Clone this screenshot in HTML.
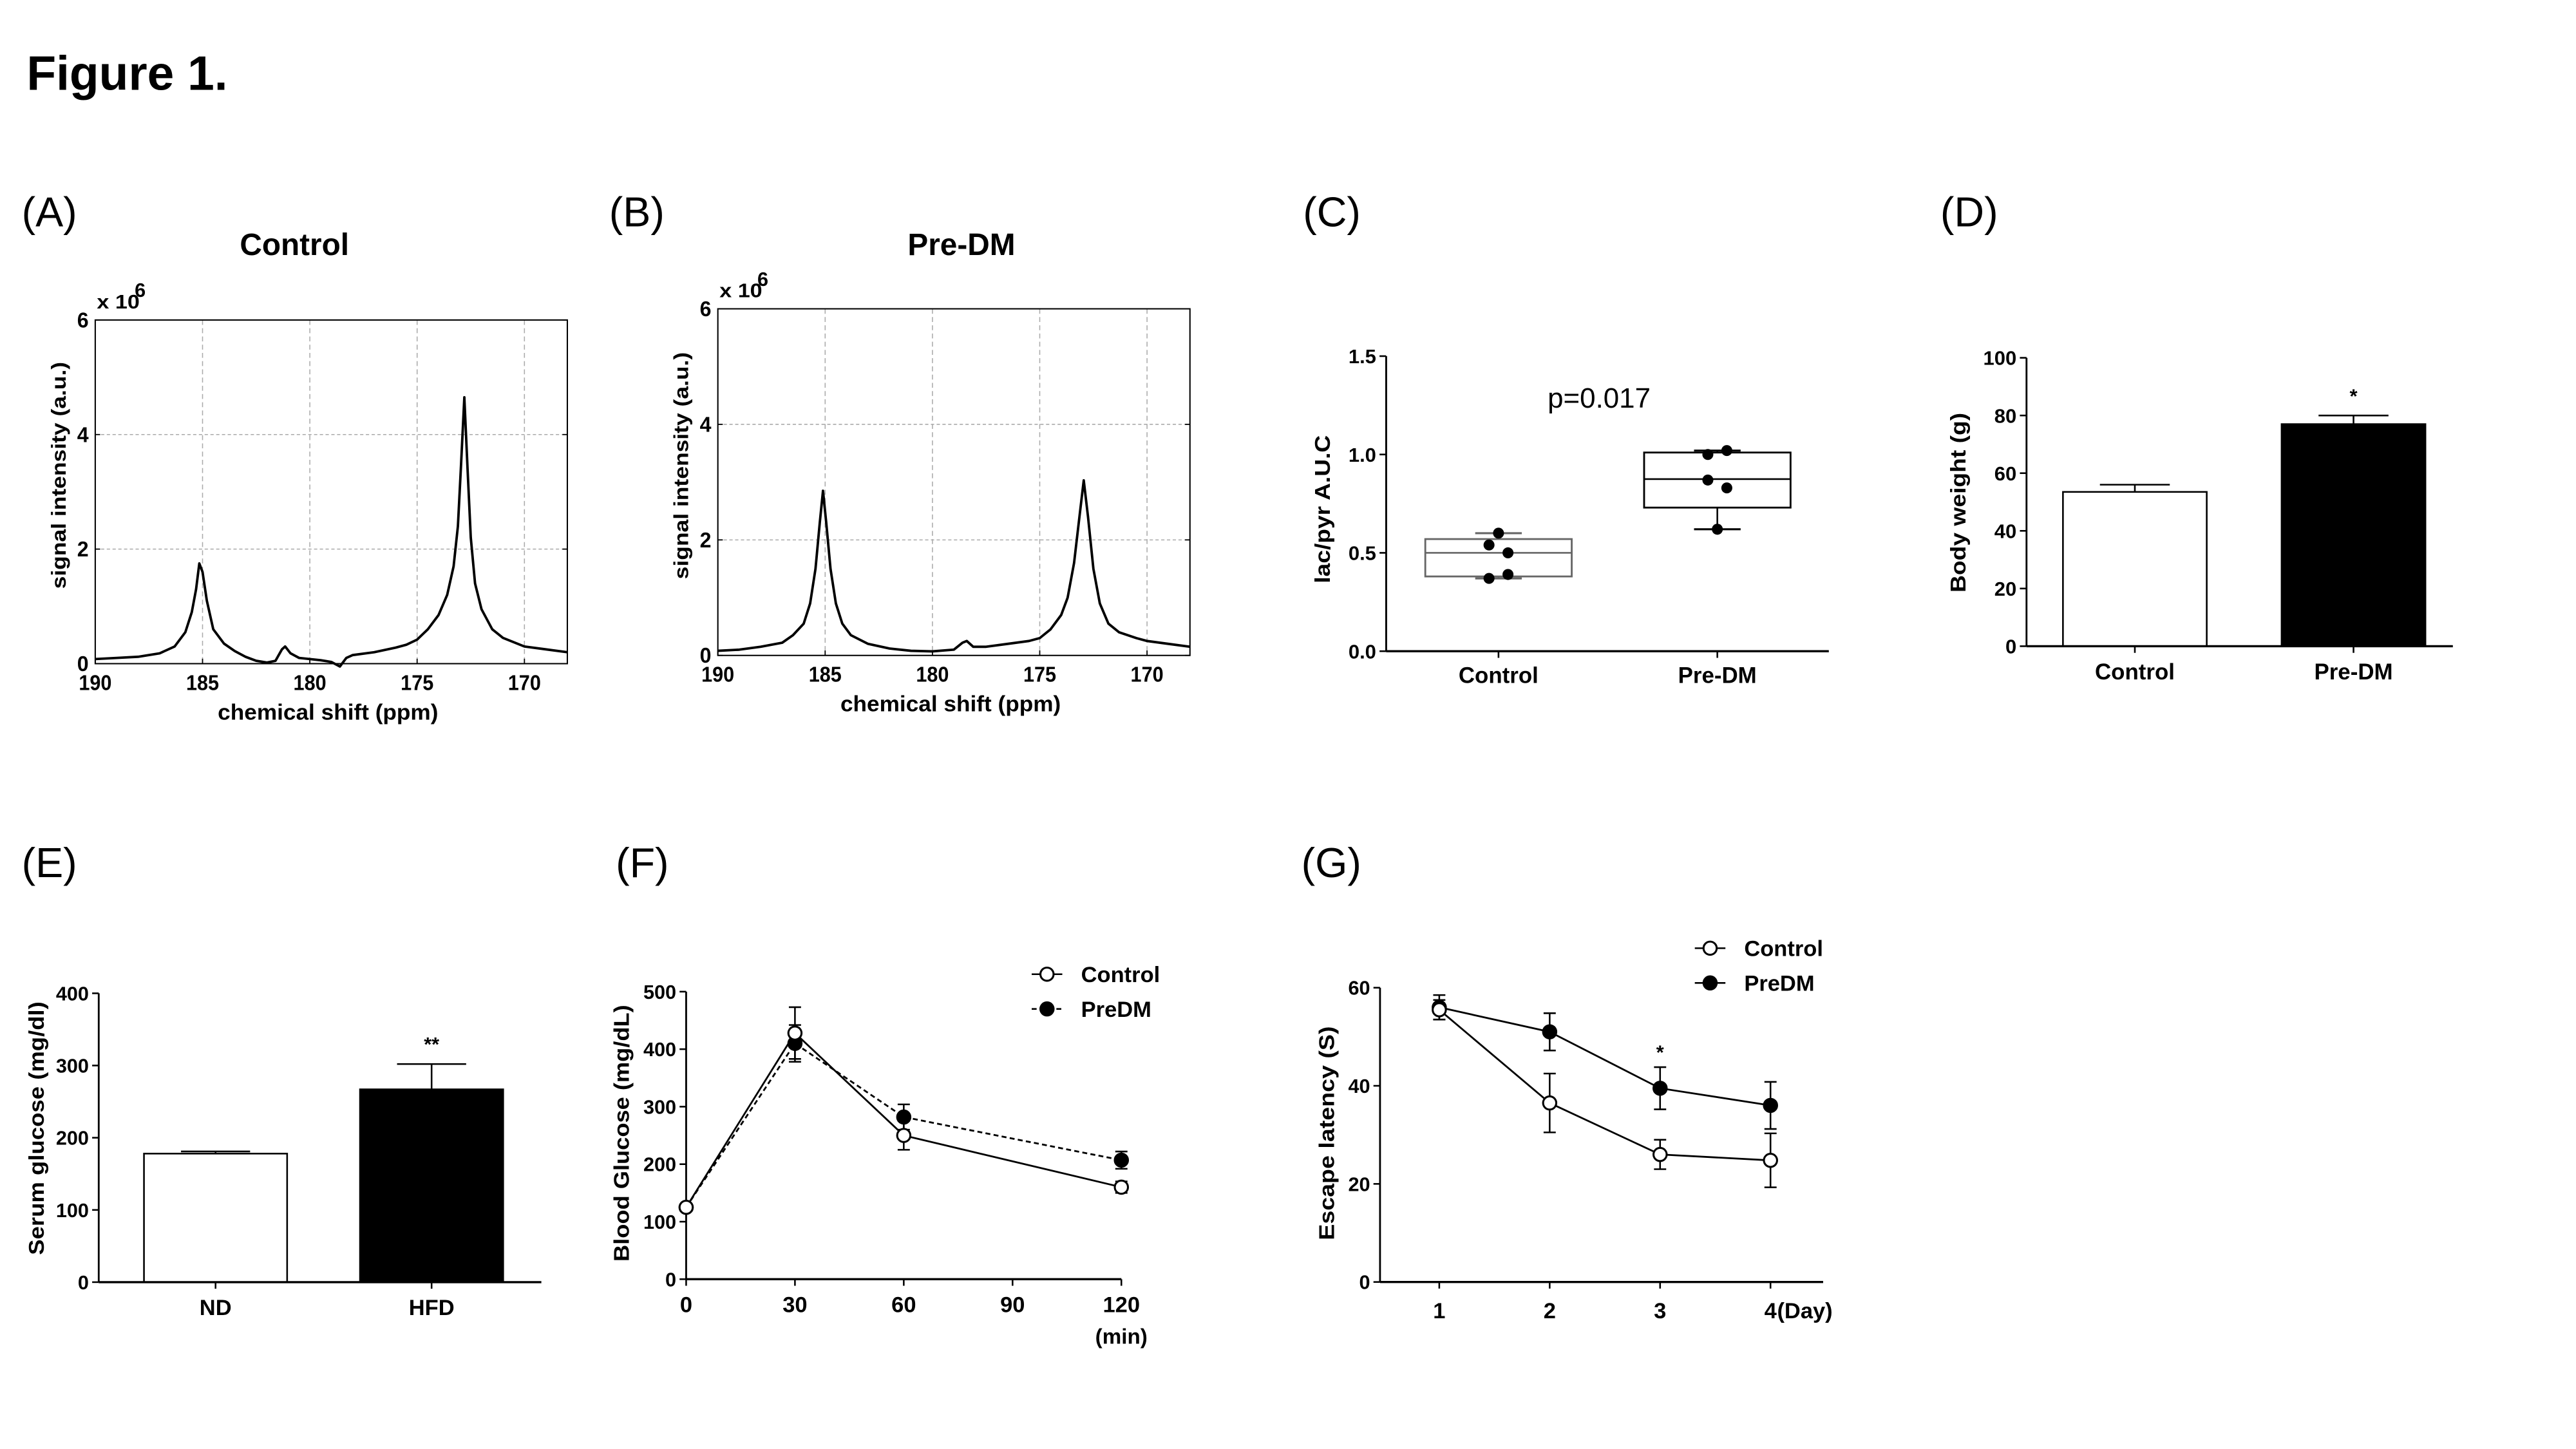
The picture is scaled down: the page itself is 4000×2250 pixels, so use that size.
<!DOCTYPE html>
<html><head><meta charset="utf-8">
<style>
html,body{margin:0;padding:0;background:#fff;}
svg{display:block;}
text{font-family:"Liberation Sans",sans-serif;fill:#000;}
</style></head>
<body>
<svg id="fig" xmlns="http://www.w3.org/2000/svg" width="4000" height="2250" viewBox="0 0 1548 870.7" preserveAspectRatio="none">
<rect x="0" y="0" width="1548" height="871" fill="#fff"/>
<text x="16" y="54" font-size="29" font-weight="bold">Figure 1.</text>
</svg>
<script>
// ---------- data ----------
const specAppm=[190,189,188,187,186.3,185.8,185.5,185.3,185.15,185.0,184.8,184.5,184.0,183.5,183,182.5,182,181.6,181.3,181.15,180.9,180.5,180,179.5,179,178.6,178.3,178,177,176,175.5,175,174.5,174,173.6,173.3,173.1,172.95,172.8,172.65,172.5,172.3,172,171.5,171,170,169,168];
const specAint=[0.08,0.1,0.12,0.18,0.3,0.55,0.9,1.3,1.75,1.6,1.1,0.6,0.35,0.22,0.12,0.05,0.02,0.05,0.25,0.3,0.18,0.1,0.08,0.06,0.03,-0.05,0.1,0.15,0.2,0.28,0.33,0.42,0.6,0.85,1.2,1.7,2.4,3.5,4.65,3.4,2.2,1.4,0.95,0.6,0.45,0.3,0.25,0.2];
const specBppm=[190,189,188,187,186.5,186,185.7,185.45,185.25,185.1,184.95,184.75,184.5,184.2,183.8,183,182,181,180,179,178.6,178.4,178.1,177.5,176.5,175.5,175,174.5,174,173.7,173.4,173.15,172.95,172.75,172.5,172.2,171.8,171.3,170.5,170,169,168];
const specBint=[0.08,0.1,0.15,0.22,0.35,0.55,0.9,1.5,2.3,2.85,2.3,1.5,0.9,0.55,0.35,0.2,0.12,0.08,0.07,0.1,0.22,0.25,0.15,0.15,0.2,0.25,0.3,0.45,0.7,1.0,1.6,2.4,3.03,2.4,1.5,0.9,0.55,0.4,0.3,0.25,0.2,0.15];
const specXTicks=[190,185,180,175,170];
const specYTicks=[0,2,4,6];

const cCats=['Control','Pre-DM'];
const cCtrlPts=[0.60,0.54,0.50,0.37,0.39];
const cPrePts=[1.00,1.02,0.87,0.83,0.62];
const cQ1=[0.38,0.73];
const cMed=[0.50,0.875];
const cQ3=[0.57,1.01];
const cMin=[0.37,0.62];
const cMax=[0.60,1.02];
const cYTicks=['0.0','0.5','1.0','1.5'];

const dCats=['Control','Pre-DM'];
const dMeans=[53.5,77];
const dErr=[2.5,3];
const dYTicks=[0,20,40,60,80,100];

const eCats=['ND','HFD'];
const eMeans=[178,267];
const eErr=[3,35];
const eYTicks=[0,100,200,300,400];

const fTimes=[0,30,60,120];
const fXTicks=[0,30,60,90,120];
const fCtrl=[125,428,250,160];
const fCtrlErr=[5,45,25,10];
const fPre=[125,410,282,207];
const fPreErr=[5,32,22,15];
const fYTicks=[0,100,200,300,400,500];

const gDays=[1,2,3,4];
const gCtrl=[55.5,36.5,26,24.8];
const gCtrlErr=[2,6,3,5.5];
const gPre=[56,51,39.5,36];
const gPreErr=[2.5,3.8,4.3,4.8];
const gYTicks=[0,20,40,60];

// ---------- helpers ----------
const NS='http://www.w3.org/2000/svg';
const svg=document.getElementById('fig');
function mk(tag,attrs,parent){const e=document.createElementNS(NS,tag);for(const k in attrs)e.setAttribute(k,attrs[k]);(parent||svg).appendChild(e);return e;}
function tx(s,attrs,parent){const e=mk('text',attrs,parent);e.textContent=s;return e;}
function lin(d0,d1,r0,r1){return v=>r0+(v-d0)*(r1-r0)/(d1-d0);}
let el;
const TOP_T='translate(0,96.7) scale(0.9885) translate(0,-96.7)';
const BOT_T='translate(0,495.4) scale(0.9888,0.989) translate(0,-495.4)';

// panel letters
const letters=[['(A)',13,'panel-label-a'],['(B)',366,'panel-label-b'],['(C)',783,'panel-label-c'],['(D)',1166,'panel-label-d']];
letters.forEach(l=>{el=tx(l[0],{x:l[1],y:136,'font-size':25});

});
const letters2=[['(E)',13,'panel-label-e'],['(F)',370,'panel-label-f'],['(G)',782,'panel-label-g']];
letters2.forEach(l=>{el=tx(l[0],{x:l[1],y:527,'font-size':25});

});

// ---------- spectra ----------
function spectrum(key,title,titleX,L,R,Y0,Y6,ppm,ints){
  const g=mk('g',{transform:TOP_T});
  
  
  const xs=lin(190,168,L,R), ys=lin(0,6,Y0,Y6);
  el=tx(title,{x:titleX,y:154,'font-size':18.7,'font-weight':'bold','text-anchor':'middle'},g);
  
  
  specXTicks.slice(1).forEach(t=>{el=mk('line',{x1:xs(t),x2:xs(t),y1:Y6,y2:Y0,stroke:'#aaa','stroke-width':0.6,'stroke-dasharray':'3,2'},g);
  
  });
  specYTicks.slice(1,3).forEach(t=>{el=mk('line',{x1:L,x2:R,y1:ys(t),y2:ys(t),stroke:'#aaa','stroke-width':0.6,'stroke-dasharray':'2,1.5'},g);
  
  });
  el=mk('rect',{x:L,y:Y6,width:R-L,height:Y0-Y6,fill:'none',stroke:'#000','stroke-width':0.8},g);
  
  
  const pts=ppm.map((p,i)=>xs(p).toFixed(2)+','+ys(ints[i]).toFixed(2)).join(' ');
  el=mk('polyline',{points:pts,fill:'none',stroke:'#000','stroke-width':1.5,'stroke-linejoin':'round'},g);
  
  
  specXTicks.forEach(t=>{el=tx(String(t),{x:xs(t),y:Y0+16,'font-size':13,'font-weight':'bold','text-anchor':'middle',textLength:20,lengthAdjust:'spacingAndGlyphs'},g);
  
  
  el=mk('line',{x1:xs(t),x2:xs(t),y1:Y0,y2:Y0-3,stroke:'#000','stroke-width':0.7},g);
  
  });
  specYTicks.forEach(t=>{el=tx(String(t),{x:L-4,y:ys(t)+4.5,'font-size':13,'font-weight':'bold','text-anchor':'end',textLength:7,lengthAdjust:'spacingAndGlyphs'},g);
  
  
  el=mk('line',{x1:L,x2:L+3,y1:ys(t),y2:ys(t),stroke:'#000','stroke-width':0.7},g);
  
  
  el=mk('line',{x1:R,x2:R-3,y1:ys(t),y2:ys(t),stroke:'#000','stroke-width':0.7},g);
  
  });
  el=tx('x 10',{x:L+1,y:Y6-7,'font-size':12,'font-weight':'bold',textLength:26,lengthAdjust:'spacingAndGlyphs'},g);
  
  
  el=tx('6',{x:L+24,y:Y6-14,'font-size':12,'font-weight':'bold'},g);
  
  
  el=tx('chemical shift (ppm)',{x:(L+R)/2-2,y:Y0+34,'font-size':13.5,'font-weight':'bold','text-anchor':'middle',textLength:134,lengthAdjust:'spacingAndGlyphs'},g);
  
  
  el=tx('signal intensity (a.u.)',{x:0,y:0,'font-size':12.5,'font-weight':'bold','text-anchor':'middle',transform:'translate('+(L-18)+','+((Y0+Y6)/2-10)+') rotate(-90)',textLength:138,lengthAdjust:'spacingAndGlyphs'},g);
  
  
}
spectrum('a','Control',179,57.9,344.9,402.3,193.4,specAppm,specAint);
spectrum('b','Pre-DM',584.5,436.4,723.4,397.3,186.6,specBppm,specBint);

// generic axis helpers
function yAxis(g,X,Yb,Yt,ticks,ys,labels){
  el=mk('line',{x1:X,x2:X,y1:Yt,y2:Yb,stroke:'#000','stroke-width':1.1},g);
  
  
  ticks.forEach((t,i)=>{
    el=mk('line',{x1:X-4,x2:X,y1:ys(t),y2:ys(t),stroke:'#000','stroke-width':1},g);
    
    
    el=tx(labels?labels[i]:String(t),{x:X-6,y:ys(t)+4.3,'font-size':12,'font-weight':'bold','text-anchor':'end'},g);
    
    
  });
}
function xAxisLine(g,X0,X1,Y){
  el=mk('line',{x1:X0,x2:X1,y1:Y,y2:Y,stroke:'#000','stroke-width':1.3},g);
  
  
}
function xTick(g,x,Y,label,ly){
  el=mk('line',{x1:x,x2:x,y1:Y,y2:Y+4,stroke:'#000','stroke-width':1},g);
  
  
  el=tx(label,{x:x,y:ly,'font-size':13.5,'font-weight':'bold','text-anchor':'middle'},g);
  
  
}
function yTitle(g,s,x,y,len){
  el=tx(s,{x:0,y:0,'font-size':13,'font-weight':'bold','text-anchor':'middle','dominant-baseline':'central',transform:'translate('+x+','+y+') rotate(-90)',textLength:len,lengthAdjust:'spacingAndGlyphs'},g);
  
  
}

// ---------- C box plot ----------
(function(){
  const g=mk('g',{});
  
  
  const X=833,Yb=391.3,Yt=214,ys=lin(0,1.5,Yb,Yt);
  yAxis(g,X,Yb,Yt,[0,0.5,1.0,1.5],ys,cYTicks);
  xAxisLine(g,X,1099,Yb);
  const cx=i=>900.5+i*131.5;
  const colors=['#666','#000'];
  const pts=[cCtrlPts,cPrePts];
  const jit=[[0,-5.7,5.7,-5.7,5.7],[-5.7,5.7,-5.7,5.7,0]];
  cCats.forEach((c,i)=>{
    xTick(g,cx(i),Yb,c,Yb+19);
    const x=cx(i),w=88;
    el=mk('line',{x1:x,x2:x,y1:ys(cMax[i]),y2:ys(cMin[i]),stroke:colors[i],'stroke-width':1},g);
    
    
    [cMin[i],cMax[i]].forEach(v=>{el=mk('line',{x1:x-14,x2:x+14,y1:ys(v),y2:ys(v),stroke:colors[i],'stroke-width':1.2},g);
    
    });
    el=mk('rect',{x:x-w/2,y:ys(cQ3[i]),width:w,height:ys(cQ1[i])-ys(cQ3[i]),fill:'#fff',stroke:colors[i],'stroke-width':1.1},g);
    
    
    el=mk('line',{x1:x-w/2,x2:x+w/2,y1:ys(cMed[i]),y2:ys(cMed[i]),stroke:colors[i],'stroke-width':1},g);
    
    
    pts[i].forEach((v,j)=>{el=mk('circle',{cx:x+jit[i][j],cy:ys(v),r:3.3,fill:'#000'},g);
    
    });
  });
  el=tx('p=0.017',{x:930,y:245,'font-size':17},g);
  
  
  yTitle(g,'lac/pyr A.U.C',795,306,89);
})();

// ---------- bar panels ----------
function barPanel(key,tr,X,Yb,Yt,X1,ymax,ticks,cats,means,errs,c0,step,w,star,starY,title,titleX,titleY,titleLen){
  const g=mk('g',{transform:tr});
  
  
  const ys=lin(0,ymax,Yb,Yt);
  cats.forEach((c,i)=>{
    const x=c0+i*step;
    el=mk('line',{x1:x,x2:x,y1:ys(means[i]),y2:ys(means[i]+errs[i]),stroke:'#000','stroke-width':1},g);
    
    
    el=mk('line',{x1:x-21,x2:x+21,y1:ys(means[i]+errs[i]),y2:ys(means[i]+errs[i]),stroke:'#000','stroke-width':1},g);
    
    
    el=mk('rect',{x:x-w/2,y:ys(means[i]),width:w,height:Yb-ys(means[i]),fill:i?'#000':'#fff',stroke:'#000','stroke-width':1},g);
    
    
    xTick(g,x,Yb,c,Yb+20);
  });
  yAxis(g,X,Yb,Yt,ticks,ys);
  xAxisLine(g,X,X1,Yb);
  el=tx(star,{x:c0+step,y:starY,'font-size':12,'font-weight':'bold','text-anchor':'middle'},g);
  
  
  yTitle(g,title,titleX,titleY,titleLen);
}
barPanel('d','',1217.8,388.3,215,1474,100,dYTicks,dCats,dMeans,dErr,1282.9,131.4,86.4,'*',242,'Body weight (g)',1177,302,108);
barPanel('e',BOT_T,60,773.5,598,329,400,eYTicks,eCats,eMeans,eErr,131,131.3,87,'**',633,'Serum glucose (mg/dl)',22.5,680,154);

// ---------- line panels ----------
function linePanel(key,xsF,ys,xVals,ctrl,ctrlErr,pre,preErr,preDash,g){
  [[pre,preErr,'#000',preDash,'predm'],[ctrl,ctrlErr,'#fff','','control']].forEach(s=>{
    const [vals,errs,fill,dash,nm]=s;
    const pts=xVals.map((x,i)=>xsF(x)+','+ys(vals[i])).join(' ');
    el=mk('polyline',{points:pts,fill:'none',stroke:'#000','stroke-width':1.1,'stroke-dasharray':dash},g);
    
    
    xVals.forEach((x,i)=>{
      const px=xsF(x);
      el=mk('line',{x1:px,x2:px,y1:ys(vals[i]-errs[i]),y2:ys(vals[i]+errs[i]),stroke:'#000','stroke-width':1},g);
      
      
      [vals[i]-errs[i],vals[i]+errs[i]].forEach(v=>{el=mk('line',{x1:px-3.7,x2:px+3.7,y1:ys(v),y2:ys(v),stroke:'#000','stroke-width':1},g);
      
      });
    });
  });
  [[pre,'#000','predm'],[ctrl,'#fff','control']].forEach(s=>{
    xVals.forEach((x,i)=>{el=mk('circle',{cx:xsF(x),cy:ys(s[0][i]),r:4,fill:s[1],stroke:'#000','stroke-width':1.2},g);
    
    });
  });
}
function legend(g,x0,y0,y1,preDash){
  [['Control','#fff',y0,''],['PreDM','#000',y1,preDash]].forEach(s=>{
    el=mk('line',{x1:x0,x2:x0+18.6,y1:s[2],y2:s[2],stroke:'#000','stroke-width':1,'stroke-dasharray':s[3]},g);
    
    
    el=mk('circle',{cx:x0+9.3,cy:s[2],r:4,fill:s[1],stroke:'#000','stroke-width':1.2},g);
    
    
    el=tx(s[0],{x:x0+30,y:s[2]+4.8,'font-size':13.5,'font-weight':'bold'},g);
    
    
  });
}
(function(){
  const g=mk('g',{transform:BOT_T});
  
  
  const X=417,Yb=771.7,Yt=597,xs=lin(0,120,417,681.5),ys=lin(0,500,Yb,Yt);
  yAxis(g,X,Yb,Yt,fYTicks,ys);
  xAxisLine(g,X,681.5,Yb);
  fXTicks.forEach(t=>xTick(g,xs(t),Yb,String(t),Yb+20));
  el=tx('(min)',{x:681.5,y:811,'font-size':13,'font-weight':'bold','text-anchor':'middle'},g);
  
  
  linePanel('f',xs,ys,fTimes,fCtrl,fCtrlErr,fPre,fPreErr,'3,2',g);
  legend(g,627,586.4,607.5,'3,2');
  yTitle(g,'Blood Glucose (mg/dL)',378,683,156);
})();
(function(){
  const g=mk('g',{transform:BOT_T});
  
  
  const X=838.7,Yb=773.4,Yt=594.6,xs=lin(1,4,874.7,1076),ys=lin(0,60,Yb,Yt);
  yAxis(g,X,Yb,Yt,gYTicks,ys);
  xAxisLine(g,X,1108,Yb);
  gDays.forEach(d=>xTick(g,xs(d),Yb,String(d),Yb+22));
  el=tx('(Day)',{x:xs(4)+4,y:Yb+22,'font-size':13.5,'font-weight':'bold'},g);
  
  
  linePanel('g',xs,ys,gDays,gCtrl,gCtrlErr,gPre,gPreErr,'',g);
  legend(g,1030,570.6,591.7,'');
  el=tx('*',{x:xs(3),y:638,'font-size':12,'font-weight':'bold','text-anchor':'middle'},g);
  
  
  yTitle(g,'Escape latency (S)',806.6,683,130);
})();
</script>
</body></html>
